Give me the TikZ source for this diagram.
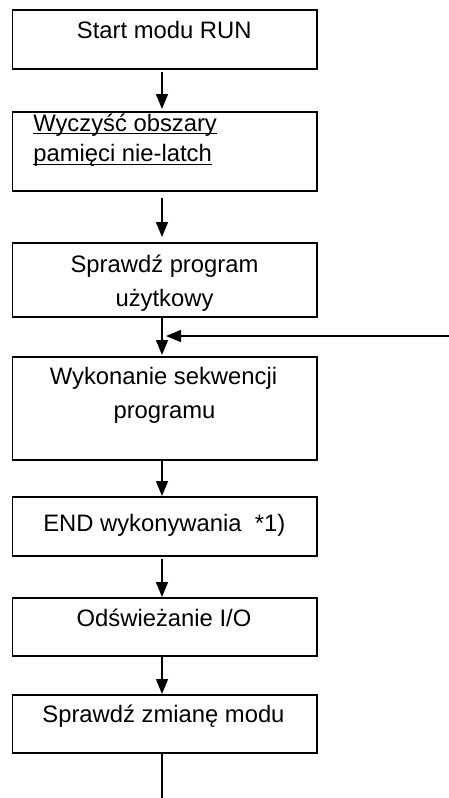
\documentclass[tikz,border=0pt]{standalone}
\usepackage{fontspec}
\setmainfont{Liberation Sans}
\usetikzlibrary{arrows.meta}
\begin{document}
\begin{tikzpicture}[x=1pt,y=-1pt,
  box/.style={draw, line width=1.5pt, minimum width=304.5pt, anchor=north west,
    inner sep=0pt, outer sep=0pt},
  txt/.style={inner sep=0pt, outer sep=0pt, anchor=base,
    font=\fontsize{23.8}{28}\selectfont},
  txtl/.style={txt, anchor=base west},
  arr/.style={line width=1.5pt, -{Triangle[length=15pt,width=12pt]}},
  flow/.style={line width=1.5pt}]
\useasboundingbox (0,0) rectangle (449,798);

% process boxes
\node[box, minimum height=59pt] (b1) at (12.5,10) {};
\node[box, minimum height=79pt] (b2) at (12.5,112) {};
\node[box, minimum height=74pt] (b3) at (12.5,243) {};
\node[box, minimum height=103pt] (b4) at (12.5,357) {};
\node[box, minimum height=59pt] (b5) at (12.5,497) {};
\node[box, minimum height=58pt] (b6) at (12.5,598) {};
\node[box, minimum height=58pt] (b7) at (12.5,695) {};

% box texts
\node[txt] (t1) at (164.2,38.3) {Start modu RUN};
\node[txtl] (t2a) at (33.3,131) {Wyczyść obszary};
\node[txtl] (t2b) at (33.3,161.7) {pamięci nie-latch};
\draw[line width=1.2pt] ([yshift=-2.7pt]t2a.base west) -- ([yshift=-2.7pt]t2a.base east);
\draw[line width=1.2pt] ([yshift=-2.7pt]t2b.base west) -- ([yshift=-2.7pt]t2b.base east);
\node[txt] (t3a) at (164.5,272.3) {Sprawdź program};
\node[txt] (t3b) at (164.5,306.7) {użytkowy};
\node[txt] (t4a) at (163.5,384) {Wykonanie sekwencji};
\node[txt] (t4b) at (164.5,418.3) {programu};
\node[txtl] (t5) at (43.3,531) {END wykonywania\ \ *1)};
\node[txt] (t6) at (164,626.5) {Odświeżanie I/O};
\node[txt] (t7) at (163.5,722) {Sprawdź zmianę modu};

% main flow
\draw[arr] ([shift={(-2.75,3)}]b1.south) -- ([shift={(-2.75,-3)}]b2.north);
\draw[arr] ([shift={(-2.75,7)}]b2.south) -- ([shift={(-2.75,-6)}]b3.north);
\draw[arr] ([shift={(-2.75,0)}]b3.south) -- ([shift={(-2.75,-2)}]b4.north);
\draw[arr] ([shift={(-2.75,0)}]b4.south) -- ([shift={(-2.75,-1)}]b5.north);
\draw[arr] ([shift={(-2.75,3)}]b5.south) -- ([shift={(-2.75,-1)}]b6.north);
\draw[arr] ([shift={(-2.75,0)}]b6.south) -- ([shift={(-2.75,-1)}]b7.north);

% loop back into the program sequence
\coordinate (out) at (162,798);
\draw[flow] ([shift={(-2.75,0)}]b7.south) -- (out);
\coordinate (loopin) at (449,336);
\coordinate (join) at (166,336);
\draw[arr] (loopin) -- (join);
\end{tikzpicture}
\end{document}
